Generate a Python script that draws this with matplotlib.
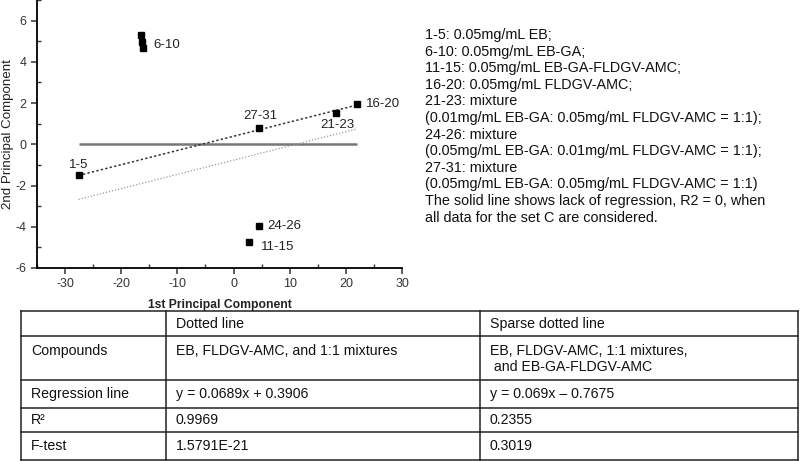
import matplotlib
matplotlib.use("Agg")
import matplotlib.pyplot as plt
from matplotlib.ticker import MultipleLocator
import numpy as np

plt.rcParams['font.family'] = ['Liberation Sans', 'DejaVu Sans']
plt.rcParams['axes.unicode_minus'] = False

# ---- data ----
labels = ["1-5", "6-10", "6-10", "6-10", "27-31", "21-23", "16-20", "24-26", "11-15"]
pc1 = [-27.6, -16.4, -16.3, -16.1, 4.6, 18.2, 21.9, 4.5, 2.7]
pc2 = [-1.49, 5.30, 4.94, 4.65, 0.81, 1.54, 1.96, -3.95, -4.72]

dotted_slope, dotted_icpt = 0.0689, 0.3906
sparse_slope, sparse_icpt = 0.069, -0.7675
line_x = [-27.6, 22.0]

legend_lines = [
    "1-5: 0.05mg/mL EB;",
    "6-10: 0.05mg/mL EB-GA;",
    "11-15: 0.05mg/mL EB-GA-FLDGV-AMC;",
    "16-20: 0.05mg/mL FLDGV-AMC;",
    "21-23: mixture",
    "(0.01mg/mL EB-GA: 0.05mg/mL FLDGV-AMC = 1:1);",
    "24-26: mixture",
    "(0.05mg/mL EB-GA: 0.01mg/mL FLDGV-AMC = 1:1);",
    "27-31: mixture",
    "(0.05mg/mL EB-GA: 0.05mg/mL FLDGV-AMC = 1:1)",
    "The solid line shows lack of regression, R2 = 0, when",
    "all data for the set C are considered.",
]

table_rows = [
    ["", "Dotted line", "Sparse dotted line"],
    ["Compounds", "EB, FLDGV-AMC, and 1:1 mixtures", "EB, FLDGV-AMC, 1:1 mixtures,\n and EB-GA-FLDGV-AMC"],
    ["Regression line", "y = 0.0689x + 0.3906", "y = 0.069x \u2013 0.7675"],
    ["R\u00b2", "0.9969", "0.2355"],
    ["F-test", "1.5791E-21", "0.3019"],
]

# ---- figure ----
W, H = 800, 461
fig = plt.figure(figsize=(8, 4.61), dpi=100)

ax = fig.add_axes([37 / W, (H - 268) / H, (402 - 37) / W, 268 / H])
ax.set_xlim(-35, 30)
ax.set_ylim(-6, 7)
for s in ("top", "right"):
    ax.spines[s].set_visible(False)
for s in ("left", "bottom"):
    ax.spines[s].set_linewidth(1.3)
ax.xaxis.set_major_locator(MultipleLocator(10))
ax.xaxis.set_minor_locator(MultipleLocator(5))
ax.yaxis.set_minor_locator(MultipleLocator(1))
ax.set_yticks([-6, -4, -2, 0, 2, 4, 6])
ax.tick_params(which="major", direction="out", length=4, width=1.1, labelsize=9, colors="#333333")
ax.tick_params(which="minor", direction="in", length=3, width=1.0, colors="#333333")
ax.set_xlabel("1st Principal Component", fontsize=8.7, fontweight="bold", color="#222222", labelpad=6)
ax.set_ylabel("2nd Principal Component", fontsize=9.6, color="#222222")
ax.yaxis.set_label_coords(-23 / (402 - 37), 0.5)

lx = np.array(line_x)
ax.plot(lx, [0, 0], color="#777777", lw=1.8, solid_capstyle="butt")
ax.plot(lx, dotted_slope * lx + dotted_icpt, color="#333333", lw=1.1, linestyle=(0, (1.5, 1.5)))
ax.plot(lx, sparse_slope * lx + sparse_icpt, color="#999999", lw=0.9, linestyle=(0, (1, 1.5)))
ax.plot(pc1, pc2, linestyle="none", marker="s", markersize=5, color="black")

# labels (offsets in points, one per unique label)
label_offsets = {
    "1-5": (0, 7, "center"),
    "6-10": (8, -2, "left"),
    "27-31": (1, 8, "center"),
    "21-23": (1, -9, "center"),
    "16-20": (7, 0, "left"),
    "24-26": (6, 0, "left"),
    "11-15": (9, -4, "left"),
}
done = set()
for lab, x, y in zip(labels, pc1, pc2):
    if lab in done:
        continue
    if lab == "6-10":
        idx = [i for i, l in enumerate(labels) if l == lab]
        x, y = pc1[idx[1]], pc2[idx[1]]
    done.add(lab)
    dx, dy, ha = label_offsets[lab]
    ax.annotate(lab, (x, y), xytext=(dx, dy), textcoords="offset points",
                ha=ha, va="center", fontsize=9.5, color="#222222")

# overlay in pixel coordinates for legend text and table
ov = fig.add_axes([0, 0, 1, 1], zorder=-1)
ov.set_xlim(0, W)
ov.set_ylim(H, 0)
ov.axis("off")

for i, t in enumerate(legend_lines):
    ov.text(425, 35 + i * 16.6, t, fontsize=10.4, va="center", ha="left", color="#111111")

col_x = [21, 166, 480, 798]
row_y = [311, 336, 380, 408, 432, 460]
lc = "#222222"
for y in row_y:
    ov.plot([col_x[0], col_x[-1]], [y, y], color=lc, lw=1.1)
for x in col_x:
    ov.plot([x, x], [row_y[0], row_y[-1]], color=lc, lw=1.1)

for r, row in enumerate(table_rows):
    y0, y1 = row_y[r], row_y[r + 1]
    for c, txt in enumerate(row):
        if not txt:
            continue
        x = col_x[c] + 10
        if r == 1:
            ov.text(x, y0 + 8, txt, fontsize=10.2, va="top", ha="left", color="#111111", linespacing=1.15)
        else:
            ov.text(x, (y0 + y1) / 2, txt, fontsize=10.2, va="center", ha="left", color="#111111")

fig.savefig("out.png", dpi=100)
